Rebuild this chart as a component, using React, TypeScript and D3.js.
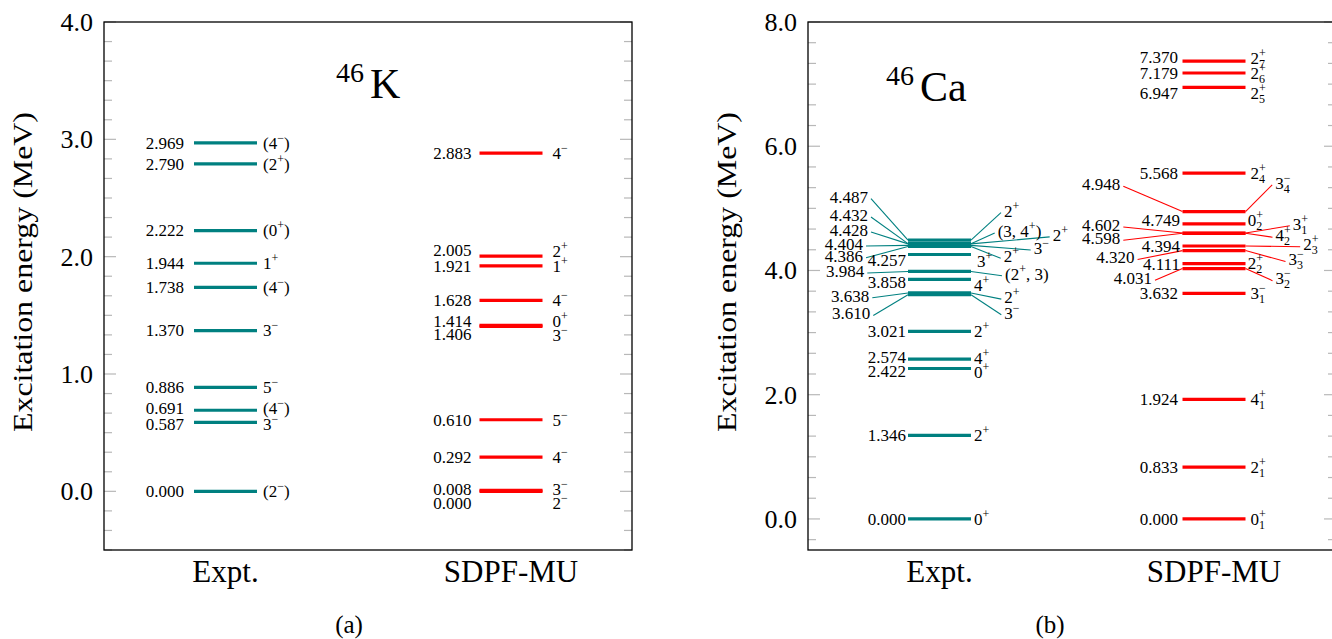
import React from 'react'
import * as d3 from 'd3'

const W = 1332
const H = 639
const FONT = 'Liberation Serif, DejaVu Serif, serif'

const columns = ['Expt.', 'SDPF-MU']

// 46K levels (MeV) and spins
const kExptEnergy = [0.0, 0.587, 0.691, 0.886, 1.37, 1.738, 1.944, 2.222, 2.79, 2.969]
const kExptSpin = ['(2^-)', '3^-', '(4^-)', '5^-', '3^-', '(4^-)', '1^+', '(0^+)', '(2^+)', '(4^-)']
const kSdpfEnergy = [0.0, 0.008, 0.292, 0.61, 1.406, 1.414, 1.628, 1.921, 2.005, 2.883]
const kSdpfSpin = ['2^-', '3^-', '4^-', '5^-', '3^-', '0^+', '4^-', '1^+', '2^+', '4^-']

// 46Ca levels (MeV) and spins
const caExptEnergy = [0.0, 1.346, 2.422, 2.574, 3.021, 3.61, 3.638, 3.858, 3.984, 4.257, 4.386, 4.404, 4.428, 4.432, 4.487]
const caExptSpin = ['0^+', '2^+', '0^+', '4^+', '2^+', '3^-', '2^+', '4^+', '(2^+, 3)', '3^+', '2^+', '3^-', '2^+', '(3, 4^+)', '2^+']
const caSdpfEnergy = [0.0, 0.833, 1.924, 3.632, 4.031, 4.111, 4.32, 4.394, 4.598, 4.602, 4.749, 4.948, 5.568, 6.947, 7.179, 7.37]
const caSdpfSpin = ['0^+_1', '2^+_1', '4^+_1', '3^-_1', '3^-_2', '2^+_2', '3^-_3', '2^+_3', '4^+_2', '3^+_1', '0^+_2', '3^-_4', '2^+_4', '2^+_5', '2^+_6', '2^+_7']

// label placement: px nudges [dx, dy] of the value (v) and spin (s) labels
type Shift = { v?: [number, number]; s?: [number, number] }
const kExptShift: Record<string, Shift> = {
  '0.691': { v: [0, -2], s: [0, -2] },
  '0.587': { v: [0, 1.5], s: [0, 1.5] },
}
const kSdpfShift: Record<string, Shift> = {
  '0.008': { v: [0, -1.6], s: [0, -1.6] },
  '0.000': { v: [0, 12.2], s: [0, 12] },
  '1.414': { v: [0, -3.8], s: [0, -3.8] },
  '1.406': { v: [0, 8], s: [0, 8.5] },
  '2.005': { v: [0, -5.4], s: [0, -4.5] },
  '1.921': { v: [0, 0.7], s: [0, 0.7] },
}
const caExptShift: Record<string, Shift> = {
  '4.487': { v: [-38, -43.5], s: [30, -29.5] },
  '4.432': { v: [-38, -28.7], s: [23.7, -12.7] },
  '4.428': { v: [-38, -13.9], s: [78.7, -9] },
  '4.404': { v: [-43, -1.4], s: [59.7, 2.6] },
  '4.386': { v: [-43, 9.3], s: [29.7, 9.8] },
  '4.257': { v: [0, 5.2], s: [3, 6.8] },
  '3.984': { v: [-41.7, -0.5], s: [31, 2.3] },
  '3.858': { v: [0, 3.2], s: [0, 5.7] },
  '3.638': { v: [-36.7, 2.8], s: [30.3, 4.2] },
  '3.610': { v: [-35.7, 18.8], s: [30.3, 18.1] },
  '2.574': { v: [0, -1.4], s: [0, -0.8] },
  '2.422': { v: [0, 3.2], s: [0, 3.5] },
}
const caSdpfShift: Record<string, Shift> = {
  '7.370': { v: [0, -3.6], s: [0, -2.8] },
  '6.947': { v: [0, 5.8], s: [0, 5.9] },
  '4.948': { v: [-57.7, -27.4], s: [24.7, -28.8] },
  '4.749': { v: [2, -4], s: [-2.7, -4] },
  '4.602': { v: [-57.7, -8.1], s: [42.3, -9.3] },
  '4.598': { v: [-57.7, 4.9], s: [25, 1.9] },
  '4.394': { v: [2, 0.3], s: [52.7, -1.3] },
  '4.320': { v: [-43.4, 6.9], s: [38, 8.9] },
  '4.111': { v: [2, 0.7], s: [-2.7, 0] },
  '4.031': { v: [-26, 9.7], s: [25, 10.1] },
}

const TEAL = '#008080'
const RED = '#ff0000'

type Series = {
  energy: number[]
  spin: string[]
  color: string
  shift: Record<string, Shift>
  gap: [number, number]
}

type PanelProps = {
  left: number
  right: number
  top: number
  bottom: number
  domain: [number, number]
  majorStep: number
  centers: [number, number]
  series: Series[]
  mass: string
  symbol: string
  titleX: number
  titleY: number
  caption: string
  captionX: number
}

// "2^+_7" -> 2 with stacked sup "+" and sub "7"
function renderSpin(s: string) {
  const out: React.ReactNode[] = []
  let i = 0
  let level = 0
  let key = 0
  let afterSup = false
  const sign = (c: string) => (c === '-' ? '\u2212' : c)
  while (i < s.length) {
    const c = s[i]
    if (c === '^') {
      out.push(<tspan key={key++} fontSize={12} dy={-7 - level}>{sign(s[i + 1])}</tspan>)
      level = -7
      afterSup = true
      i += 2
    } else if (c === '_') {
      out.push(<tspan key={key++} fontSize={12} dx={afterSup ? -6.8 : 0} dy={4 - level}>{s[i + 1]}</tspan>)
      level = 4
      afterSup = false
      i += 2
    } else {
      let j = i
      while (j < s.length && s[j] !== '^' && s[j] !== '_') j++
      out.push(<tspan key={key++} dy={-level}>{s.slice(i, j)}</tspan>)
      level = 0
      afterSup = false
      i = j
    }
  }
  return out
}

function Panel(p: PanelProps) {
  const y = d3.scaleLinear().domain(p.domain).range([p.bottom, p.top])
  const x = d3.scalePoint<string>().domain(columns).range(p.centers)
  const majors = d3.range(Math.ceil(p.domain[0] / p.majorStep) * p.majorStep, p.domain[1] + 1e-9, p.majorStep)
  const minorStep = p.majorStep / 6
  const minors = d3
    .range(Math.ceil(p.domain[0] / minorStep - 1e-9), Math.floor(p.domain[1] / minorStep + 1e-9) + 1)
    .map((i) => i * minorStep)
    .filter((v) => Math.abs(v / p.majorStep - Math.round(v / p.majorStep)) > 1e-6)
  const fmt = d3.format('.1f')
  const half = 31.5
  const midY = 272

  return (
    <g>
      {/* ticks */}
      {minors.map((v, i) => (
        <g key={'mi' + i} stroke="#b8b8b8" strokeWidth={1.2}>
          <line x1={p.left} x2={p.left + 8} y1={y(v)} y2={y(v)} />
          <line x1={p.right - 8} x2={p.right} y1={y(v)} y2={y(v)} />
        </g>
      ))}
      {majors.map((v, i) => (
        <g key={'ma' + i}>
          <line x1={p.left} x2={p.left + 12} y1={y(v)} y2={y(v)} stroke="#b8b8b8" strokeWidth={1.2} />
          <line x1={p.right - 12} x2={p.right} y1={y(v)} y2={y(v)} stroke="#b8b8b8" strokeWidth={1.2} />
          <text x={p.left - 11} y={y(v) + 9} fontSize={26} textAnchor="end" fill="#000">
            {fmt(v)}
          </text>
        </g>
      ))}
      <rect x={p.left} y={p.top} width={p.right - p.left} height={p.bottom - p.top} fill="none" stroke="#000" strokeWidth={1.3} />

      <text
        transform={`translate(${p.left - 72},${midY}) rotate(-90)`}
        fontSize={28}
        textAnchor="middle"
        textLength={320}
        lengthAdjust="spacingAndGlyphs"
      >
        Excitation energy (MeV)
      </text>

      {columns.map((c) => (
        <text key={c} x={x(c)} y={582} fontSize={31} textAnchor="middle">
          {c}
        </text>
      ))}

      <text x={p.titleX} y={p.titleY - 16} fontSize={28}>
        {p.mass}
      </text>
      <text x={p.titleX + 34} y={p.titleY} fontSize={42}>
        {p.symbol}
      </text>

      <text x={p.captionX} y={633} fontSize={25} textAnchor="middle">
        {p.caption}
      </text>

      {p.series.map((s, si) => {
        const cx = x(columns[si]) as number
        const x0 = cx - half
        const x1 = cx + half
        const items = s.energy.map((e, j) => {
          const yy = y(e)
          const sh = s.shift[e.toFixed(3)] || {}
          const v = sh.v || [0, 0]
          const sp = sh.s || [0, 0]
          return {
            e,
            yy,
            spin: s.spin[j],
            vx: x0 - s.gap[0] + v[0],
            vy: yy + v[1],
            vLead: Math.abs(v[0]) > 8,
            sx: x1 + s.gap[1] + sp[0],
            sy: yy + sp[1],
            sLead: Math.abs(sp[0]) > 8,
          }
        })
        return (
          <g key={si}>
            {items.map((d, j) => (
              <g key={'l' + j} stroke={s.color} strokeWidth={1.1}>
                {d.vLead && <line x1={d.vx + 3} y1={d.vy + 2} x2={x0} y2={d.yy} />}
                {d.sLead && <line x1={x1} y1={d.yy} x2={d.sx - 3} y2={d.sy + 2} />}
              </g>
            ))}
            {items.map((d, j) => (
              <line key={'b' + j} x1={x0} x2={x1} y1={d.yy} y2={d.yy} stroke={s.color} strokeWidth={3.2} />
            ))}
            {items.map((d, j) => (
              <g key={'t' + j} fontSize={17} fill="#000">
                <text x={d.vx} y={d.vy + 5.8} textAnchor="end">
                  {d.e.toFixed(3)}
                </text>
                <text x={d.sx} y={d.sy + 5.8} textAnchor="start">
                  {renderSpin(d.spin)}
                </text>
              </g>
            ))}
          </g>
        )
      })}
    </g>
  )
}

export default function App() {
  return (
    <svg
      width={W}
      height={H}
      viewBox={`0 0 ${W} ${H}`}
      fontFamily={FONT}
      style={{ position: 'absolute', left: 0, top: 0, background: '#fff' }}
    >
      <rect width={W} height={H} fill="#fff" />
      <g fontFamily={FONT}>
        <Panel
          left={104}
          right={632}
          top={22}
          bottom={550}
          domain={[-0.5, 4]}
          majorStep={1}
          centers={[225.5, 511]}
          series={[
            { energy: kExptEnergy, spin: kExptSpin, color: TEAL, shift: kExptShift, gap: [10, 6] },
            { energy: kSdpfEnergy, spin: kSdpfSpin, color: RED, shift: kSdpfShift, gap: [8, 10] },
          ]}
          mass="46"
          symbol="K"
          titleX={336}
          titleY={98}
          caption="(a)"
          captionX={349}
        />
        <Panel
          left={808}
          right={1336}
          top={22}
          bottom={550}
          domain={[-0.5, 8]}
          majorStep={2}
          centers={[939.5, 1214]}
          series={[
            { energy: caExptEnergy, spin: caExptSpin, color: TEAL, shift: caExptShift, gap: [2, 3] },
            { energy: caSdpfEnergy, spin: caSdpfSpin, color: RED, shift: caSdpfShift, gap: [4.5, 5] },
          ]}
          mass="46"
          symbol="Ca"
          titleX={886}
          titleY={101}
          caption="(b)"
          captionX={1050}
        />
      </g>
    </svg>
  )
}
